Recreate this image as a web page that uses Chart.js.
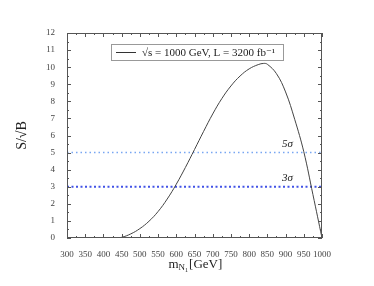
<!DOCTYPE html>
<html>
<head>
<meta charset="utf-8">
<script src="https://cdn.jsdelivr.net/npm/chart.js@4/dist/chart.umd.min.js"></script>
<style>
  html, body { margin: 0; padding: 0; background: #fff; }
  #wrap { width: 374px; height: 286px; }
</style>
</head>
<body>
<div id="wrap"><canvas id="myChart"></canvas></div>
<script>
// data
const masses = [300, 400, 430, 450, 475, 500, 525, 550, 575, 600, 625, 650, 675, 700, 725, 750, 775, 800, 825, 840, 850, 875, 900, 925, 950, 975, 1000];
const signif = [0, 0, 0, 0.04, 0.24, 0.55, 0.98, 1.55, 2.28, 3.15, 4.13, 5.18, 6.24, 7.26, 8.16, 8.9, 9.48, 9.9, 10.15, 10.22, 10.17, 9.62, 8.55, 6.95, 5.05, 2.55, 0];
const fiveSigma = [5, 5];
const threeSigma = [3, 3];
const xRange = [300, 1000];
const curveLabel = '\u221As = 1000 GeV, L = 3200 fb\u207B\u00B9';

const serif = '"Liberation Serif", "DejaVu Serif", serif';

const frameTicks = {
  id: 'frameTicks',
  afterDraw(chart) {
    const c = chart.ctx, a = chart.chartArea;
    const x = chart.scales.x, y = chart.scales.y;
    c.save();
    c.strokeStyle = '#555';
    c.lineWidth = 1;
    c.strokeRect(a.left + 0.5, a.top + 0.5, a.right - a.left - 1, a.bottom - a.top - 1);
    c.beginPath();
    for (let v = 300; v <= 1000; v += 25) {
      const px = Math.round(x.getPixelForValue(v)) + 0.5;
      const len = v % 50 === 0 ? 4 : 2;
      c.moveTo(px, a.bottom); c.lineTo(px, a.bottom - len);
      c.moveTo(px, a.top); c.lineTo(px, a.top + len);
    }
    for (let v = 0; v <= 12; v += 0.5) {
      const py = Math.round(y.getPixelForValue(v)) + 0.5;
      const len = v % 1 === 0 ? 4 : 2;
      c.moveTo(a.left, py); c.lineTo(a.left + len, py);
      c.moveTo(a.right, py); c.lineTo(a.right - len, py);
    }
    c.stroke();

    // legend box
    const bx = a.left + 44, by = a.top + 11;
    c.fillStyle = '#fff';
    c.fillRect(bx, by, 172, 16);
    c.strokeStyle = '#999';
    c.strokeRect(bx + 0.5, by + 0.5, 172, 16);
    c.strokeStyle = '#333';
    c.beginPath();
    c.moveTo(bx + 5, by + 8.5); c.lineTo(bx + 25, by + 8.5);
    c.stroke();
    c.fillStyle = '#222';
    c.font = '11px ' + serif;
    c.textBaseline = 'middle';
    c.fillText(curveLabel, bx + 31, by + 9);

    // sigma labels
    c.font = 'italic 11px ' + serif;
    c.textAlign = 'center';
    c.textBaseline = 'bottom';
    c.fillText('5\u03C3', x.getPixelForValue(905), y.getPixelForValue(5.2));
    c.fillText('3\u03C3', x.getPixelForValue(905), y.getPixelForValue(3.2));

    // x title with subscript
    const tx = (a.left + a.right) / 2 - 26, ty = 268;
    c.textAlign = 'left';
    c.textBaseline = 'alphabetic';
    c.font = '13px ' + serif;
    c.fillText('m', tx, ty);
    let w = c.measureText('m').width;
    c.font = '9px ' + serif;
    c.fillText('N', tx + w, ty + 2);
    w += c.measureText('N').width;
    c.font = '6px ' + serif;
    c.fillText('1', tx + w, ty + 4);
    w += c.measureText('1').width + 1;
    c.font = '13px ' + serif;
    c.fillText('[GeV]', tx + w, ty);
    c.restore();
  }
};

new Chart(document.getElementById('myChart'), {
  type: 'line',
  data: {
    datasets: [{
      label: curveLabel,
      data: masses.map((m, i) => ({ x: m, y: signif[i] })),
      borderColor: '#444',
      borderWidth: 1,
      pointRadius: 0,
      tension: 0.4
    }, {
      label: '5 sigma',
      data: xRange.map((m, i) => ({ x: m, y: fiveSigma[i] })),
      borderColor: '#78a6f2',
      borderWidth: 1.5,
      borderDash: [1.5, 3],
      pointRadius: 0
    }, {
      label: '3 sigma',
      data: xRange.map((m, i) => ({ x: m, y: threeSigma[i] })),
      borderColor: '#4152e6',
      borderWidth: 2,
      borderDash: [2, 2.5],
      pointRadius: 0
    }]
  },
  options: {
    responsive: true,
    maintainAspectRatio: false,
    animation: false,
    layout: { padding: { left: 0, right: 52, top: 33, bottom: 0 } },
    plugins: { legend: { display: false }, tooltip: { enabled: false } },
    scales: {
      x: {
        type: 'linear',
        min: 300,
        max: 1000,
        grid: { display: false },
        border: { display: false },
        ticks: { stepSize: 50, autoSkip: false, maxRotation: 0, padding: 3, color: '#444', font: { family: serif, size: 9 }, callback: v => String(v) },
        afterFit: s => { s.height = 48; }
      },
      y: {
        min: 0,
        max: 12,
        grid: { display: false },
        border: { display: false },
        ticks: { stepSize: 1, padding: 4, color: '#444', font: { family: serif, size: 9 } },
        title: { display: true, text: 'S/\u221AB', color: '#222', font: { family: serif, size: 14 }, padding: { top: 14, bottom: 0 } },
        afterFit: s => { s.width = 67; }
      }
    }
  },
  plugins: [frameTicks]
});
</script>
</body>
</html>
